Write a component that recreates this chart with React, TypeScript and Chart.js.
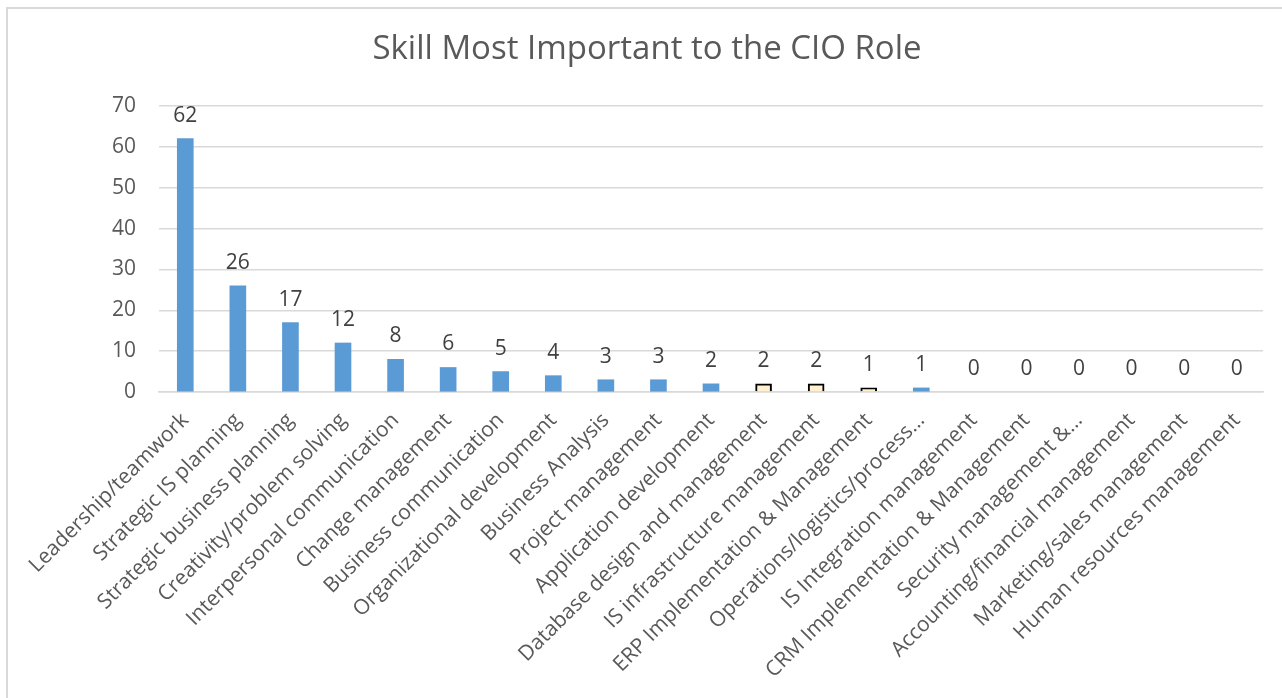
import React, { useEffect, useRef } from "react";
import { Chart, registerables } from "chart.js";

Chart.register(...registerables);

const TITLE = "Skill Most Important to the CIO Role";

const categories: string[] = [
  "Leadership/teamwork",
  "Strategic IS planning",
  "Strategic business planning",
  "Creativity/problem solving",
  "Interpersonal communication",
  "Change management",
  "Business communication",
  "Organizational development",
  "Business Analysis",
  "Project management",
  "Application development",
  "Database design and management",
  "IS infrastructure management",
  "ERP Implementation & Management",
  "Operations/logistics/process…",
  "IS Integration management",
  "CRM Implementation & Management",
  "Security management &…",
  "Accounting/financial management",
  "Marketing/sales management",
  "Human resources management",
];

const values: number[] = [62, 26, 17, 12, 8, 6, 5, 4, 3, 3, 2, 2, 2, 1, 1, 0, 0, 0, 0, 0, 0];

// indices of bars drawn highlighted (pale yellow with dark outline)
const highlighted: number[] = [11, 12, 13];

const yTicks: number[] = [0, 10, 20, 30, 40, 50, 60, 70];

const BLUE = "#5B9BD5";
const PALE = "#FFF2CC";
const TEXT = "#595959";
const FONT = "'Open Sans', 'Noto Sans', sans-serif";

const titlePlugin = {
  id: "centeredTitle",
  afterDraw(chart: any) {
    const ctx = chart.ctx;
    ctx.save();
    ctx.font = `33px ${FONT}`;
    ctx.fillStyle = TEXT;
    ctx.textAlign = "center";
    ctx.textBaseline = "middle";
    ctx.fillText(TITLE, 647, 50);
    ctx.restore();
  },
};

const dataLabelPlugin = {
  id: "dataLabels",
  afterDatasetsDraw(chart: any) {
    const ctx = chart.ctx;
    const meta = chart.getDatasetMeta(0);
    ctx.save();
    ctx.font = `21px ${FONT}`;
    ctx.fillStyle = "#404040";
    ctx.textAlign = "center";
    ctx.textBaseline = "alphabetic";
    meta.data.forEach((el: any, i: number) => {
      ctx.fillText(String(values[i]), el.x, el.y - 17);
    });
    ctx.restore();
  },
};

export default function App() {
  const ref = useRef<HTMLCanvasElement | null>(null);

  useEffect(() => {
    if (!ref.current) return;
    const chart = new Chart(ref.current, {
      type: "bar",
      data: {
        labels: categories,
        datasets: [
          {
            data: values,
            backgroundColor: values.map((v, i) =>
              v === 0 ? "rgba(0,0,0,0)" : highlighted.includes(i) ? PALE : BLUE
            ),
            borderColor: values.map((_, i) => (highlighted.includes(i) ? "#000000" : BLUE)),
            borderWidth: values.map((_, i) => (highlighted.includes(i) ? 2 : 0)),
            barThickness: 16,
          },
        ],
      },
      options: {
        responsive: false,
        animation: false,
        devicePixelRatio: 1,
        layout: { padding: { left: 0, right: 19, top: 106, bottom: 0 } },
        plugins: {
          legend: { display: false },
          tooltip: { enabled: false },
          title: { display: false },
        },
        scales: {
          x: {
            grid: { display: false, drawTicks: false },
            border: { display: true, color: "#d9d9d9", width: 1.5 },
            ticks: {
              color: TEXT,
              font: { family: FONT, size: 21 },
              minRotation: 45,
              maxRotation: 45,
              autoSkip: false,
              padding: 16,
            },
            afterFit(scale: any) {
              scale.height = 306;
            },
          },
          y: {
            min: 0,
            max: 70,
            afterBuildTicks(scale: any) {
              scale.ticks = yTicks.map((v) => ({ value: v }));
            },
            grid: { color: "#d9d9d9", lineWidth: 1.5, drawTicks: false },
            border: { display: false },
            ticks: {
              color: TEXT,
              font: { family: FONT, size: 21 },
              padding: 23,
            },
            afterFit(scale: any) {
              scale.width = 159;
            },
          },
        },
      },
      plugins: [dataLabelPlugin, titlePlugin],
    });
    return () => chart.destroy();
  }, []);

  return (
    <div style={{ position: "fixed", left: 0, top: 0, width: 1282, height: 698, overflow: "hidden", background: "#fff" }}>
      <div
        style={{
          position: "absolute",
          left: 6,
          top: 7,
          width: 2000,
          height: 2000,
          borderTop: "2px solid #d9d9d9",
          borderLeft: "2px solid #d9d9d9",
        }}
      />
      <canvas ref={ref} width={1282} height={698} style={{ position: "absolute", left: 0, top: 0, width: 1282, height: 698 }} />
    </div>
  );
}
